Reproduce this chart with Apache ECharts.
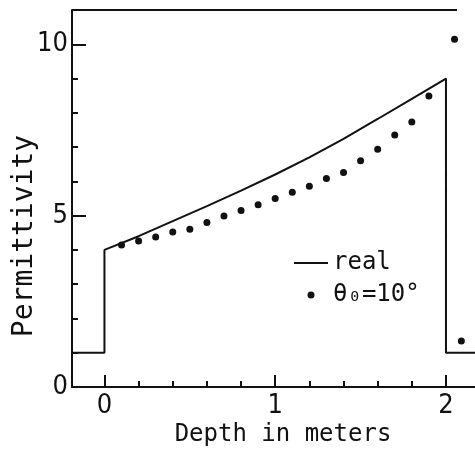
<!DOCTYPE html>
<html>
<head>
<meta charset="utf-8">
<script src="https://cdn.jsdelivr.net/npm/echarts@6/dist/echarts.min.js"></script>
<style>
html,body{margin:0;padding:0;background:#fff;}
#chart{width:475px;height:453px;}
</style>
</head>
<body>
<div id="chart"></div>
<script>
// "real" permittivity profile (step + curve)
var realX = [-0.19, 0, 0, 0.2, 0.4, 0.6, 0.8, 1.0, 1.2, 1.4, 1.6, 1.8, 2.0, 2.0, 2.17];
var realY = [1, 1, 4, 4.4, 4.84, 5.28, 5.73, 6.2, 6.7, 7.24, 7.82, 8.41, 9.0, 1, 1];
// reconstructed points, theta0 = 10 deg
var dotX = [0.1, 0.2, 0.3, 0.4, 0.5, 0.6, 0.7, 0.8, 0.9, 1.0, 1.1, 1.2, 1.3, 1.4, 1.5, 1.6, 1.7, 1.8, 1.9, 2.05, 2.09];
var dotY = [4.14, 4.26, 4.38, 4.52, 4.6, 4.8, 4.99, 5.15, 5.32, 5.5, 5.68, 5.86, 6.08, 6.26, 6.6, 6.94, 7.35, 7.73, 8.49, 10.15, 1.34];
// ticks
var xMajor = [0, 1, 2];
var xMinor = [0.2, 0.4, 0.6, 0.8, 1.2, 1.4, 1.6, 1.8];
var yMajor = [0, 5, 10];
var yMinor = [1, 2, 3, 4, 6, 7, 8, 9];
var seriesNames = ['real', 'θ₀=10°'];
var xTitle = 'Depth in meters';
var yTitle = 'Permittivity';

var ink = '#111';
var numFont = '"Liberation Sans Narrow", "DejaVu Sans Condensed", sans-serif';
var txtFont = '"DejaVu Sans Mono", "Liberation Mono", monospace';

function zip(a, b) { return a.map(function (v, i) { return [v, b[i]]; }); }

var chart = echarts.init(document.getElementById('chart'));
chart.setOption({
  animation: false,
  backgroundColor: '#fff',
  grid: { left: 72, top: 10, right: 0, bottom: 66 },
  xAxis: [{
    type: 'value', min: -0.19, max: 2.17, position: 'bottom',
    axisLine: { show: true, onZero: false, lineStyle: { color: ink, width: 2 } },
    axisTick: { show: true, inside: true, length: 12, customValues: xMajor, lineStyle: { color: ink, width: 2 } },
    axisLabel: { customValues: xMajor, margin: 5, color: ink, fontSize: 27, fontFamily: numFont },
    splitLine: { show: false }
  }, {
    type: 'value', min: -0.19, max: 2.17, position: 'bottom',
    axisLine: { show: false, onZero: false },
    axisTick: { show: true, inside: true, length: 6, customValues: xMinor, lineStyle: { color: ink, width: 2 } },
    axisLabel: { show: false },
    splitLine: { show: false }
  }],
  yAxis: [{
    type: 'value', min: 0, max: 11, position: 'left',
    axisLine: { show: true, onZero: false, lineStyle: { color: ink, width: 2 } },
    axisTick: { show: true, inside: true, length: 14, customValues: yMajor, lineStyle: { color: ink, width: 2 } },
    axisLabel: { customValues: yMajor, margin: 4, color: ink, fontSize: 27, fontFamily: numFont },
    splitLine: { show: false }
  }, {
    type: 'value', min: 0, max: 11, position: 'left',
    axisLine: { show: false, onZero: false },
    axisTick: { show: true, inside: true, length: 6, customValues: yMinor, lineStyle: { color: ink, width: 2 } },
    axisLabel: { show: false },
    splitLine: { show: false }
  }],
  legend: {
    data: [
      { name: seriesNames[0], itemStyle: { opacity: 0 } },
      { name: seriesNames[1] }
    ],
    orient: 'vertical',
    left: 293, top: 249,
    itemWidth: 34, itemHeight: 7, itemGap: 4,
    padding: 0,
    textStyle: { color: ink, fontSize: 24, fontFamily: txtFont, lineHeight: 28 }
  },
  graphic: [
    { type: 'line', shape: { x1: 72, y1: 10, x2: 457, y2: 10 }, style: { stroke: ink, lineWidth: 2 } },
    { type: 'text', x: 25, y: 236, rotation: Math.PI / 2,
      style: { text: yTitle, fill: ink, font: '28px ' + txtFont, textAlign: 'center', textVerticalAlign: 'middle' } },
    { type: 'text', x: 283, y: 435,
      style: { text: xTitle, fill: ink, font: '24px ' + txtFont, textAlign: 'center', textVerticalAlign: 'middle' } }
  ],
  series: [{
    name: seriesNames[0], type: 'line', xAxisIndex: 0, yAxisIndex: 0,
    data: zip(realX, realY), symbol: 'none', showSymbol: false,
    lineStyle: { color: ink, width: 2 }, itemStyle: { color: ink }
  }, {
    name: seriesNames[1], type: 'scatter', xAxisIndex: 0, yAxisIndex: 0,
    data: zip(dotX, dotY), symbol: 'circle', symbolSize: 7,
    itemStyle: { color: ink, opacity: 1 }
  }]
});
</script>
</body>
</html>
